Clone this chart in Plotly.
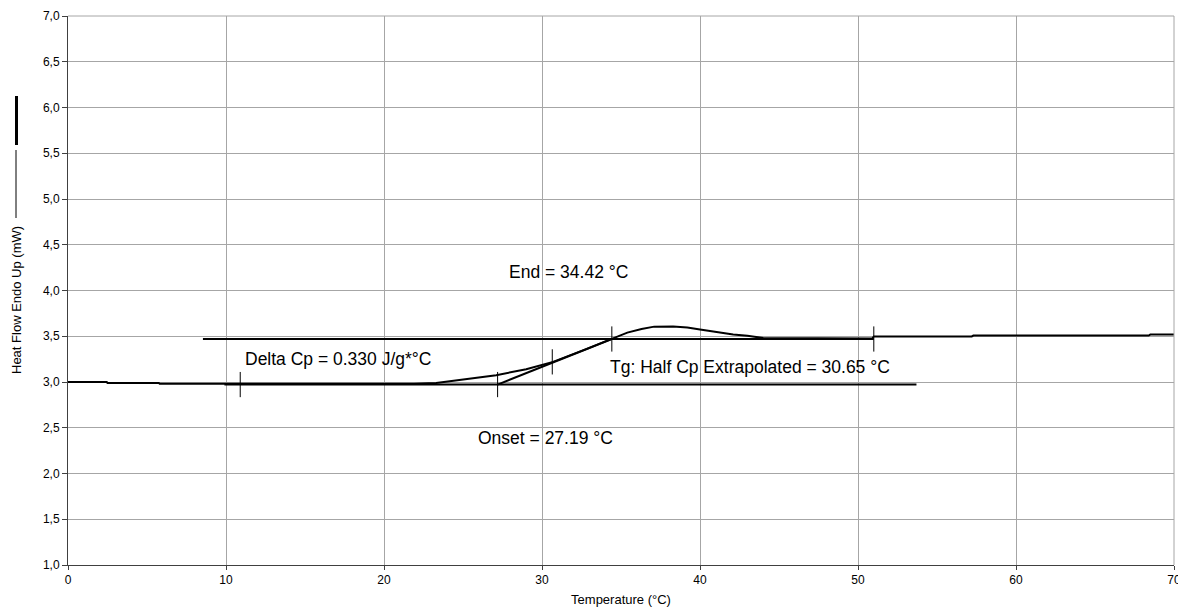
import plotly.graph_objects as go

# ---- data ----
temp = [0, 2.45, 2.5, 5.75, 5.8, 9.85, 9.9, 18.7, 21.9, 23.3, 25.2, 27.1, 29.0, 30.7,
        32.8, 34.4, 35.4, 36.3, 37.1, 38.3, 39.2, 40.0, 41.3, 42.1, 43.0, 44.0,
        50.9, 51.0, 57.2, 57.3, 68.4, 68.5, 70.0]
heat_flow = [3.0, 3.0, 2.99, 2.99, 2.98, 2.98, 2.975, 2.975, 2.982, 2.99, 3.035, 3.075, 3.14, 3.22,
             3.36, 3.475, 3.54, 3.58, 3.605, 3.607, 3.595, 3.575, 3.54, 3.52, 3.505, 3.482,
             3.475, 3.498, 3.498, 3.508, 3.508, 3.518, 3.52]

lower_base_x = [9.9, 53.7]
lower_base_y = [2.972, 2.972]
upper_base_x = [8.54, 51.0]
upper_base_y = [3.47, 3.47]
tangent_x = [27.19, 34.42]
tangent_y = [2.972, 3.47]

tick_mark_x = [10.9, 27.19, 30.65, 34.42, 51.0]
tick_mark_y = [2.972, 2.972, 3.22, 3.47, 3.47]

labels = ["End = 34.42 °C", "Delta Cp = 0.330 J/g*°C",
          "Tg: Half Cp Extrapolated = 30.65 °C", "Onset = 27.19 °C"]
label_x = [27.8, 11.1, 34.2, 25.8]
label_y = [4.2, 3.255, 3.16, 2.385]

x_ticks = [0, 10, 20, 30, 40, 50, 60, 70]
y_ticks = [1.0, 1.5, 2.0, 2.5, 3.0, 3.5, 4.0, 4.5, 5.0, 5.5, 6.0, 6.5, 7.0]

FONT = "Liberation Sans, Arial, sans-serif"

W, H = 1178, 610
L, R, T, B = 68, 4, 16, 45
pw, ph = W - L - R, H - T - B


def px(x):
    return (x - L) / pw


def py(y):
    return (H - B - y) / ph


fig = go.Figure()
line_style = dict(color="black", width=2)
fig.add_trace(go.Scatter(x=lower_base_x, y=lower_base_y, mode="lines", line=line_style,
                         hoverinfo="skip"))
fig.add_trace(go.Scatter(x=upper_base_x, y=upper_base_y, mode="lines", line=line_style,
                         hoverinfo="skip"))
fig.add_trace(go.Scatter(x=tangent_x, y=tangent_y, mode="lines", line=line_style,
                         hoverinfo="skip"))
fig.add_trace(go.Scatter(x=temp, y=heat_flow, mode="lines", line=line_style))
fig.add_trace(go.Scatter(x=tick_mark_x, y=tick_mark_y, mode="markers",
                         marker=dict(symbol="line-ns-open", size=18, color="black",
                                     line=dict(color="black", width=1)),
                         hoverinfo="skip"))

for t, xx, yy in zip(labels, label_x, label_y):
    fig.add_annotation(x=xx, y=yy, text=t, showarrow=False, xanchor="left",
                       yanchor="middle", font=dict(family=FONT, size=17.5, color="black"))

# y-axis title with legend line symbol (outside plot)
fig.add_annotation(xref="paper", yref="paper", x=px(16), y=py(376), text="Heat Flow Endo Up (mW)",
                   textangle=-90, showarrow=False, xanchor="center", yanchor="bottom",
                   font=dict(family=FONT, size=13, color="black"))
fig.add_shape(type="line", xref="paper", yref="paper", x0=px(16), x1=px(16),
              y0=py(150), y1=py(218), line=dict(color="black", width=1))
fig.add_shape(type="line", xref="paper", yref="paper", x0=px(16.5), x1=px(16.5),
              y0=py(96), y1=py(145), line=dict(color="black", width=3))

fig.update_layout(
    width=W, height=H,
    margin=dict(l=L, r=R, t=T, b=B),
    paper_bgcolor="white", plot_bgcolor="white",
    showlegend=False,
    separators=",.",
    font=dict(family=FONT, size=12, color="black"),
    xaxis=dict(range=[0, 70], tickvals=x_ticks, showgrid=True, gridcolor="#a6a6a6",
               gridwidth=1, zeroline=False, showline=True, linecolor="#404040", linewidth=1,
               mirror=False, ticks="outside", ticklen=4, tickcolor="#404040", automargin=False,
               ticklabeloverflow="allow",
               tickfont=dict(family=FONT, size=12, color="black"),
               title=dict(text="Temperature (°C)", standoff=8,
                          font=dict(family=FONT, size=13, color="black"))),
    yaxis=dict(range=[1, 7], tickvals=y_ticks, tickformat=".1f", showgrid=True,
               gridcolor="#a6a6a6", gridwidth=1, zeroline=False, showline=True, automargin=False,
               linecolor="#404040", linewidth=1, ticks="outside", ticklen=5,
               tickcolor="#404040", tickfont=dict(family=FONT, size=12, color="black")),
)
# gray top and right frame
fig.add_shape(type="line", xref="paper", yref="paper", x0=0, x1=1, y0=1, y1=1,
              line=dict(color="#a6a6a6", width=1))
fig.add_shape(type="line", xref="paper", yref="paper", x0=1, x1=1, y0=0, y1=1,
              line=dict(color="#a6a6a6", width=1))

fig.write_html("out.html", config={"displayModeBar": False},
               post_script="document.body.style.margin='0';document.body.style.overflow='hidden';")
